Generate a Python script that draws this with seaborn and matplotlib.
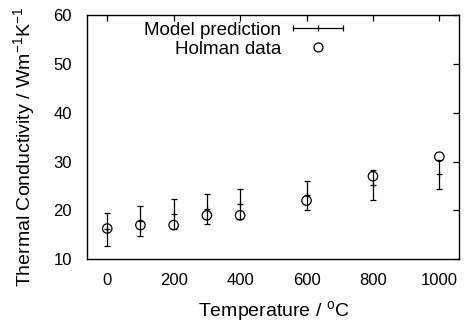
import matplotlib
matplotlib.use("Agg")
import matplotlib.pyplot as plt
import seaborn as sns
import numpy as np
import pandas as pd
from matplotlib.lines import Line2D
from matplotlib.legend_handler import HandlerLine2D

temperature = [0, 100, 200, 300, 400, 600, 800, 1000]
model_mean = [16.1, 17.9, 19.25, 20.25, 21.3, 23.1, 25.2, 27.4]
model_err = [3.3, 3.1, 3.05, 3.05, 3.05, 3.0, 3.05, 3.0]
holman = [16.3, 17.0, 17.0, 19.0, 19.0, 22.0, 27.0, 31.0]
x_ticks = [0, 200, 400, 600, 800, 1000]
y_ticks = [10, 20, 30, 40, 50, 60]

sns.set_theme(style="white", rc={"text.color": "black", "axes.labelcolor": "black",
                                 "xtick.color": "black", "ytick.color": "black",
                                 "axes.edgecolor": "black"})
plt.rcParams['font.family'] = ['Liberation Sans', 'DejaVu Sans']
plt.rcParams['mathtext.fontset'] = 'custom'
plt.rcParams['mathtext.rm'] = 'Liberation Sans'
plt.rcParams['mathtext.it'] = 'Liberation Sans:italic'
plt.rcParams['mathtext.default'] = 'regular'

FS_TICK = 12
FS_LAB = 14
FS_LEG = 13.5
fig = plt.figure(figsize=(4.65, 3.26), dpi=100)
ax = fig.add_axes([87.3/465, 1-259.3/326, (459.3-87.3)/465, (259.3-15)/326])

df_model = pd.DataFrame({"T": temperature, "k": model_mean, "err": model_err})
df_hol = pd.DataFrame({"T": temperature, "k": holman})

ax.errorbar(df_model["T"], df_model["k"], yerr=df_model["err"], fmt='none',
            ecolor='black', elinewidth=0.9, capsize=2.5, capthick=0.9, zorder=2)
sns.scatterplot(data=df_model, x="T", y="k", marker='+', s=16, color='black',
                linewidth=0.9, ax=ax, zorder=3, legend=False)
sns.scatterplot(data=df_hol, x="T", y="k", marker='o', s=46, facecolors='none',
                edgecolor='black', linewidth=0.9, ax=ax, zorder=4, legend=False)

ax.set_xlim(-60, 1060)
ax.set_ylim(10, 60)
ax.set_xticks(x_ticks)
ax.set_yticks(y_ticks)
ax.tick_params(direction='in', length=4, width=0.9, top=True, right=True,
               labelsize=FS_TICK, colors='black')
ax.tick_params(axis='x', pad=10)
ax.tick_params(axis='y', pad=11)
for s in ax.spines.values():
    s.set_color('black')
    s.set_linewidth(1.0)
    s.set_visible(True)

ax.set_xlabel('Temperature / $^{o}$C', fontsize=FS_LAB, color='black', labelpad=7.5)
ax.set_ylabel('Thermal Conductivity / Wm$^{-1}$K$^{-1}$', fontsize=FS_LAB, color='black')
ax.yaxis.set_label_coords(-0.135, 0.46)

h_model = Line2D([], [], color='black', linewidth=0.9, marker='|', markersize=5,
                 markeredgewidth=0.9)
h_hol = Line2D([], [], linestyle='none', marker='o', markersize=6.5,
               markerfacecolor='none', markeredgecolor='black', markeredgewidth=0.9)
leg = ax.legend([h_model, h_hol], ['Model prediction', 'Holman data'],
                handler_map={h_model: HandlerLine2D(numpoints=3),
                             h_hol: HandlerLine2D(numpoints=1)},
                loc='upper right', bbox_to_anchor=(0.7024, 0.972),
                frameon=False, markerfirst=False, fontsize=FS_LEG,
                handlelength=3.27, handletextpad=0.34, labelspacing=0.1,
                borderpad=0, borderaxespad=0)

fig.savefig('out.png', dpi=100)
